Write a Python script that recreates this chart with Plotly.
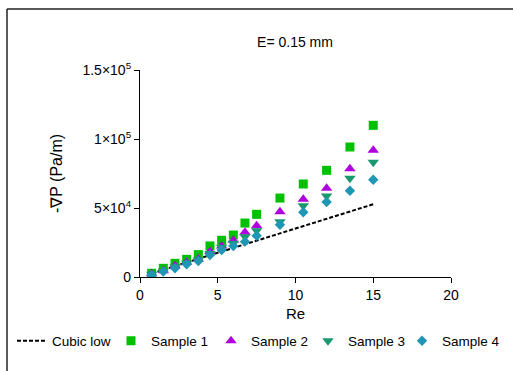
import plotly.graph_objects as go

re_vals = [0.75, 1.5, 2.25, 3.0, 3.75, 4.5, 5.25, 6.0, 6.75, 7.5, 9.0, 10.5, 12.0, 13.5, 15.0]
sample1 = [2.7e3, 6.3e3, 9.9e3, 12.8e3, 16.2e3, 22.5e3, 26.6e3, 30.4e3, 39.1e3, 45.4e3, 57.2e3, 67.4e3, 77.3e3, 94.2e3, 109.9e3]
sample2 = [2.3e3, 4.6e3, 8.2e3, 10.6e3, 12.8e3, 18.4e3, 22.5e3, 26.6e3, 32.4e3, 37.2e3, 47.3e3, 56.3e3, 64.3e3, 78.5e3, 91.8e3]
sample3 = [2.0e3, 4.3e3, 7.5e3, 9.9e3, 12.3e3, 17.1e3, 21.5e3, 24.4e3, 29.2e3, 33.6e3, 40.1e3, 51.7e3, 58.7e3, 71.5e3, 83.1e3]
sample4 = [1.5e3, 3.9e3, 6.3e3, 9.2e3, 11.6e3, 15.9e3, 19.6e3, 22.5e3, 25.6e3, 29.9e3, 37.9e3, 46.9e3, 54.3e3, 62.5e3, 70.5e3]
cubic_re = [0.75, 15.0]
cubic_vals = [2.6e3, 52.7e3]

y_tickvals = [0, 5e4, 1e5, 1.5e5]
y_ticktext = ["0", "5×10<sup>4</sup>", "1×10<sup>5</sup>", "1.5×10<sup>5</sup>"]
x_tickvals = [0, 5, 10, 15, 20]

FONT = "Liberation Sans, Arial, sans-serif"

# plot area in pixels
L, R, T, B = 140, 62, 70, 94
PW, PH = 513 - L - R, 371 - T - B


def px_x(p):
    return (p - L) / PW


def px_y(p):
    return (371 - B - p) / PH


fig = go.Figure()
fig.add_trace(go.Scatter(x=cubic_re, y=cubic_vals, mode="lines", name="Cubic low",
                         line=dict(color="black", width=2, dash="4px,2px"), legend="legend"))
fig.add_trace(go.Scatter(x=re_vals, y=sample1, mode="markers", name="Sample 1",
                         marker=dict(symbol="square", size=9, color="#00C000"), legend="legend2"))
fig.add_trace(go.Scatter(x=re_vals, y=sample2, mode="markers", name="Sample 2",
                         marker=dict(symbol="triangle-up", size=10, color="#B000E0"), legend="legend3"))
fig.add_trace(go.Scatter(x=re_vals, y=sample3, mode="markers", name="Sample 3",
                         marker=dict(symbol="triangle-down", size=10, color="#1A9970"), legend="legend4"))
fig.add_trace(go.Scatter(x=re_vals, y=sample4, mode="markers", name="Sample 4",
                         marker=dict(symbol="diamond", size=8, color="#1E96B4"), legend="legend5"))


def leg(xstart):
    return dict(orientation="h", x=px_x(xstart), xanchor="left",
                y=px_y(341), yanchor="middle", font=dict(size=13.5, family=FONT),
                bgcolor="rgba(0,0,0,0)", borderwidth=0)


fig.update_layout(
    width=513, height=371,
    margin=dict(l=L, r=R, t=T, b=B, autoexpand=False),
    paper_bgcolor="white", plot_bgcolor="white",
    font=dict(family=FONT, size=14, color="black"),
    title=dict(text="E= 0.15 mm", x=295 / 513, xanchor="center",
               y=1 - 42 / 371, yanchor="middle", font=dict(family=FONT, size=14, color="black")),
    showlegend=True,
    legend=leg(12),
    legend2=leg(111),
    legend3=leg(211),
    legend4=leg(308),
    legend5=leg(402),
    xaxis=dict(range=[0, 20], tickvals=x_tickvals, showgrid=False, zeroline=False,
               showline=True, linecolor="black", linewidth=1.2, automargin=False,
               ticks="outside", ticklen=5, tickcolor="black",
               title=dict(text="Re", standoff=6, font=dict(family=FONT, size=15, color="black")),
               tickfont=dict(size=14)),
    yaxis=dict(range=[0, 1.5e5], tickvals=y_tickvals, ticktext=y_ticktext,
               showgrid=False, zeroline=False, automargin=False,
               showline=True, linecolor="black", linewidth=1.2,
               ticks="outside", ticklen=5, tickcolor="black",
               title=dict(text="-∇P (Pa/m)", standoff=15, font=dict(family=FONT, size=16, color="black")),
               tickfont=dict(size=14)),
    shapes=[
        dict(type="line", xref="paper", yref="paper",
             x0=px_x(7), x1=px_x(7), y0=px_y(371), y1=px_y(9),
             line=dict(color="#222222", width=1.5)),
        dict(type="line", xref="paper", yref="paper",
             x0=px_x(7), x1=px_x(513), y0=px_y(9), y1=px_y(9),
             line=dict(color="#222222", width=1.5)),
    ],
)

fig.write_html("out.html", config={"displayModeBar": False},
               post_script="document.body.style.margin='0';")
